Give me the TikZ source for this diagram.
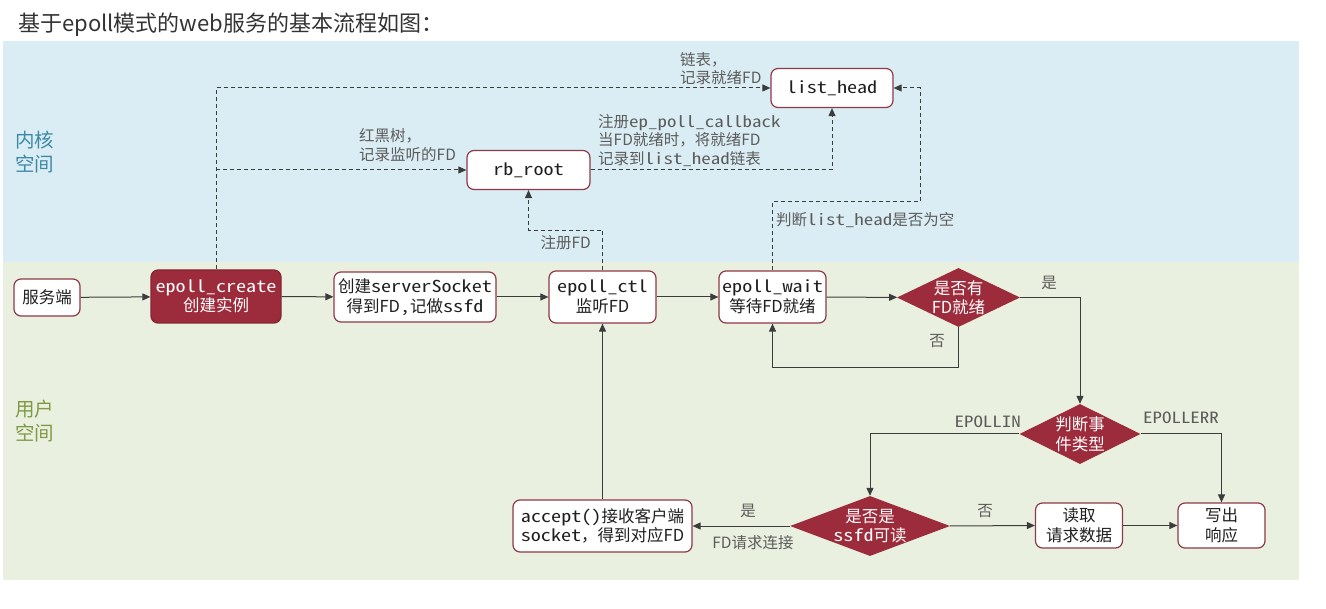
\documentclass[tikz,border=0pt]{standalone}
\usepackage{fontspec}
\setmainfont{Noto Sans CJK SC}
\newfontfamily\sanscjk{Noto Sans CJK SC}
% code words: Source-Code-like Latin, widened to the usual 0.6em mono pitch
\IfFontExistsTF{Noto Sans Mono CJK SC}
  {\newfontfamily\latmono{Noto Sans Mono CJK SC}[FakeStretch=1.22]}
  {\newfontfamily\latmono{DejaVu Sans Mono}[Scale=0.95]}
\newcommand\codew[1]{{\latmono #1}}
\usetikzlibrary{arrows.meta,shapes.geometric}

\definecolor{kernelbg}{HTML}{DBEDF4}
\definecolor{userbg}{HTML}{EAF0DF}
\definecolor{darkred}{HTML}{9C2B3B}
\definecolor{boxline}{HTML}{8E3A46}
\definecolor{wire}{HTML}{3C3C3C}
\definecolor{notegray}{HTML}{5C5C5C}
\definecolor{kerneltxt}{HTML}{3D8AA6}
\definecolor{usertxt}{HTML}{7D9A45}
\definecolor{titletxt}{HTML}{333333}

\newcommand\dgboxfont{\sanscjk\fontsize{16.5}{19.5}\selectfont}
\newcommand\dgnotefont{\sanscjk\fontsize{15.5}{18.5}\selectfont}

\begin{document}
\begin{tikzpicture}[x=1pt,y=-1pt,
  box/.style={draw=boxline, line width=1.2pt, fill=white, rounded corners=7pt,
    inner sep=0pt, align=center, font=\dgboxfont, text=black!88},
  hotbox/.style={box, fill=darkred, draw=darkred!85!black, text=white},
  dia/.style={diamond, fill=darkred, draw=none, inner sep=0pt},
  dtext/.style={font=\dgboxfont, text=white, align=center, inner sep=0pt},
  flow/.style={draw=wire, line width=1pt, -{Triangle[length=8pt,width=7pt]}},
  dflow/.style={draw=wire, line width=1pt, dash pattern=on 4pt off 3pt,
    -{Triangle[length=8pt,width=7pt]}},
  note/.style={font=\dgnotefont, text=notegray, align=left, inner sep=0pt},
  area/.style={font=\sanscjk\fontsize{19.5}{23.5}\selectfont, align=left, inner sep=0pt},
]
\useasboundingbox (0,0) rectangle (1326,609);

% title
\node[font=\sanscjk\fontsize{22}{26}\selectfont, text=titletxt, anchor=west, inner sep=0pt]
  (title) at (18,25) {基于epoll模式的web服务的基本流程如图：};

% kernel / user space bands
\fill[kernelbg] (3,41) rectangle (1299,262);
\fill[userbg] (3,262) rectangle (1299,580);
\node[area, text=kerneltxt, anchor=west] (kspace) at (15,152) {内核\\空间};
\node[area, text=usertxt, anchor=west] (uspace) at (15,421) {用户\\空间};

% kernel structures
\node[box, minimum width=123pt, minimum height=39pt] (rb) at (528.5,170) {\codew{rb\_root}};
\node[box, minimum width=122pt, minimum height=39pt] (lh) at (832,88) {\codew{list\_head}};

% main flow
\node[box, minimum width=66pt, minimum height=37pt] (srv) at (47,297.5) {服务端};
\node[hotbox, minimum width=130pt, minimum height=53pt] (create) at (216,296.5) {\codew{epoll\_create}\\创建实例};
\node[box, minimum width=162pt, minimum height=50pt] (sock) at (415,297) {创建\codew{serverSocket}\\得到FD\codew{,}记做\codew{ssfd}};
\node[box, minimum width=107pt, minimum height=52pt] (ctl) at (602.5,297) {\codew{epoll\_ctl}\\监听FD};
\node[box, minimum width=107pt, minimum height=52pt] (wait) at (772.5,297) {\codew{epoll\_wait}\\等待FD就绪};

\node[dia, minimum width=123pt, minimum height=59pt] (d1) at (958.5,297.5) {};
\node[dtext] (d1t) at (d1) {是否有\\FD就绪};
\node[dia, minimum width=121pt, minimum height=60pt] (d2) at (1080,434) {};
\node[dtext] (d2t) at (d2) {判断事\\件类型};
\node[dia, minimum width=160pt, minimum height=60pt] (d3) at (870,526) {};
\node[dtext] (d3t) at (d3) {是否是\\\codew{ssfd}可读};

\node[box, minimum width=179pt, minimum height=52pt] (acc) at (602.5,526) {\codew{accept()}接收客户端\\\codew{socket}，得到对应FD};
\node[box, minimum width=87pt, minimum height=45pt] (read) at (1079,525.5) {读取\\请求数据};
\node[box, minimum width=87pt, minimum height=45pt] (write) at (1221.5,525.5) {写出\\响应};

% solid connectors
\draw[flow] (srv) -- (create);
\draw[flow] (create) -- (sock);
\draw[flow] (sock) -- (ctl);
\draw[flow] (ctl) -- (wait);
\draw[flow] (wait) -- (d1);
\draw[flow] (d1.south) -- ++(0,40) -| (wait.south);
\draw[flow] (d1.east) -| (d2.north);
\draw[flow] (d2.west) -| (d3.north);
\draw[flow] (d2.east) -| (write.north);
\draw[flow] (d3.west) -- (acc.east);
\draw[flow] (d3.east) -- (read.west);
\draw[flow] (read) -- (write);
\draw[flow] (acc.north) -- (ctl.south);

% solid connector labels
\node[note] (yes1) at (1049,283) {是};
\node[note] (no1) at (937,341) {否};
\node[note, anchor=east] (lin) at (1021,422) {\codew{EPOLLIN}};
\node[note] (lerr) at (1181,418) {\codew{EPOLLERR}};
\node[note] (yes3) at (748,511) {是};
\node[note] (conn) at (753,543) {FD请求连接};
\node[note] (no3) at (985,511) {否};

% dashed kernel links
\coordinate (bend) at (920,202);
\draw[dflow] (create.north) |- (lh.west);
\draw[dflow] (create.north |- rb.west) -- (rb.west);
\draw[dflow] (rb.east) -| (lh.south);
\draw[dflow] (ctl.north) -- ++(0,-40) -| (rb.south);
\draw[dflow] (wait.north) |- (bend) |- (lh.east);

% dashed link notes
\node[note, anchor=west] (n1) at (680,68.5) {链表，\\记录就绪FD};
\node[note, anchor=west] (n2) at (359,145) {红黑树，\\记录监听的FD};
\node[note, anchor=west] (n3) at (598,140.5) {注册\codew{ep\_poll\_callback}\\当FD就绪时，将就绪FD\\记录到\codew{list\_head}链表};
\node[note, anchor=west] (n4) at (776,220) {判断\codew{list\_head}是否为空};
\node[note, anchor=east] (n5) at (591,243) {注册FD};
\end{tikzpicture}
\end{document}
